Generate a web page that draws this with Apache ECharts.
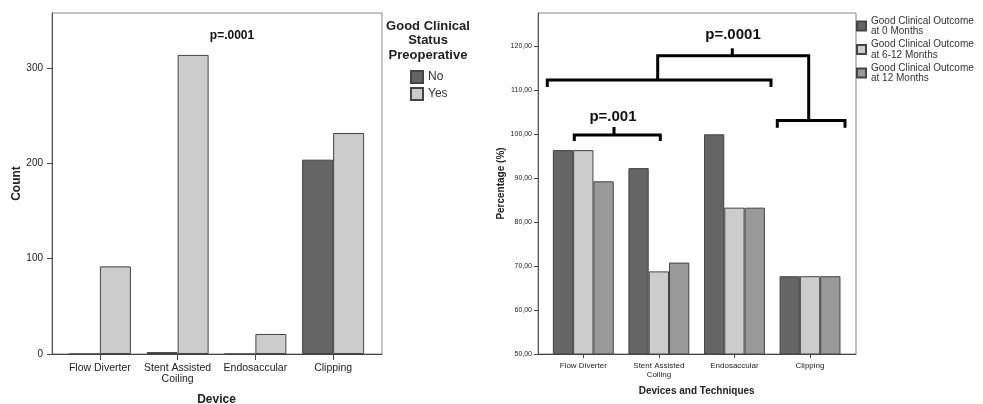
<!DOCTYPE html>
<html>
<head>
<meta charset="utf-8">
<script src="https://cdn.jsdelivr.net/npm/echarts@6/dist/echarts.min.js"></script>
<style>
  html, body { margin: 0; padding: 0; background: #fff; }
  #main { width: 983px; height: 404px; }
</style>
</head>
<body>
<div id="main"></div>
<script>
// categories and values
var devices = ['Flow Diverter', 'Stent Assisted\nCoiling', 'Endosaccular', 'Clipping'];
var preopNo = [0, 2, 0, 204];
var preopYes = [92, 314, 21, 232];
var countTicks = [0, 100, 200, 300];

var outcome0 = [96.4, 92.3, 100, 67.7];
var outcome612 = [96.4, 68.8, 83.3, 67.7];
var outcome12 = [89.3, 70.8, 83.3, 67.7];
var pctTicks = [50, 60, 70, 80, 90, 100, 110, 120];

var FONT = 'Liberation Sans, Arial, sans-serif';
var DARK = '#656565', LIGHT = '#cccccc', MID = '#999999';

var chart = echarts.init(document.getElementById('main'));

function bracket(points) {
    return {
        type: 'polyline',
        shape: { points: points },
        style: { stroke: '#000', lineWidth: 3, fill: null, lineJoin: 'miter' },
        silent: true
    };
}

var option = {
    animation: false,
    textStyle: { fontFamily: FONT },
    grid: [
        // left chart: frame + bar area
        { left: 52, top: 13, width: 330, height: 341, show: true, borderColor: '#888', borderWidth: 1, outerBoundsMode: 'none' },
        { left: 61, top: 13, width: 311, height: 341, outerBoundsMode: 'none' },
        // right chart: frame + bar area
        { left: 538, top: 13, width: 318, height: 341, show: true, borderColor: '#888', borderWidth: 1, outerBoundsMode: 'none' },
        { left: 545.5, top: 13, width: 302.3, height: 341, outerBoundsMode: 'none' }
    ],
    xAxis: [
        { gridIndex: 0, type: 'category', data: devices,
          axisLine: { lineStyle: { color: '#444' } }, axisTick: { show: false }, axisLabel: { show: false } },
        { gridIndex: 1, type: 'category', data: devices,
          axisLine: { show: true, lineStyle: { color: '#444' } },
          axisTick: { show: true, interval: 0, alignWithLabel: true, length: 6, lineStyle: { color: '#444' } },
          axisLabel: { interval: 0, fontSize: 10.5, lineHeight: 11, color: '#222', margin: 9 },
          name: 'Device', nameLocation: 'middle', nameGap: 40,
          nameTextStyle: { fontSize: 12, fontWeight: 'bold', color: '#222' } },
        { gridIndex: 2, type: 'category', data: devices,
          axisLine: { lineStyle: { color: '#444' } }, axisTick: { show: false }, axisLabel: { show: false } },
        { gridIndex: 3, type: 'category', data: devices,
          axisLine: { show: true, lineStyle: { color: '#444' } },
          axisTick: { show: true, interval: 0, alignWithLabel: true, length: 4, lineStyle: { color: '#444' } },
          axisLabel: { interval: 0, fontSize: 8, lineHeight: 9, color: '#222', margin: 7 },
          name: 'Devices and Techniques', nameLocation: 'middle', nameGap: 32,
          nameTextStyle: { fontSize: 10, fontWeight: 'bold', color: '#222' } }
    ],
    yAxis: [
        { gridIndex: 0, type: 'value', min: 0, max: 358,
          axisLine: { show: true, lineStyle: { color: '#555' } },
          axisTick: { show: true, length: 5, customValues: countTicks, lineStyle: { color: '#444' } },
          axisLabel: { customValues: countTicks, fontSize: 10, color: '#222', margin: 9 },
          splitLine: { show: false },
          name: 'Count', nameLocation: 'middle', nameRotate: 90, nameGap: 24,
          nameTextStyle: { fontSize: 12, fontWeight: 'bold', color: '#222' } },
        { gridIndex: 1, type: 'value', min: 0, max: 358, show: false, splitLine: { show: false } },
        { gridIndex: 2, type: 'value', min: 50, max: 127.6,
          axisLine: { show: true, lineStyle: { color: '#555' } },
          axisTick: { show: true, length: 4, customValues: pctTicks, lineStyle: { color: '#444' } },
          axisLabel: { customValues: pctTicks, fontSize: 7, color: '#222', margin: 6,
                       formatter: function (v) { return v.toFixed(2).replace('.', ','); } },
          splitLine: { show: false },
          name: 'Percentage (%)', nameLocation: 'middle', nameRotate: 90, nameGap: 32,
          nameTextStyle: { fontSize: 10, fontWeight: 'bold', color: '#222' } },
        { gridIndex: 3, type: 'value', min: 50, max: 127.6, show: false, splitLine: { show: false } }
    ],
    legend: [
        { data: ['No', 'Yes'], orient: 'vertical', left: 410, top: 70, padding: 0,
          itemWidth: 12, itemHeight: 12, itemGap: 3, icon: 'rect',
          textStyle: { fontSize: 12, lineHeight: 12, color: '#333', fontFamily: FONT } },
        { data: ['Good Clinical Outcome\nat 0 Months', 'Good Clinical Outcome\nat 6-12 Months', 'Good Clinical Outcome\nat 12 Months'],
          orient: 'vertical', left: 856, top: 15.5, padding: 0,
          itemWidth: 9, itemHeight: 9, itemGap: 2.5, icon: 'rect',
          textStyle: { fontSize: 10, lineHeight: 10.5, color: '#333', fontFamily: FONT } }
    ],
    series: [
        { name: 'No', type: 'bar', xAxisIndex: 1, yAxisIndex: 1, data: preopNo,
          barWidth: 31, barGap: '0%',
          itemStyle: { color: DARK, borderColor: '#444', borderWidth: 1 } },
        { name: 'Yes', type: 'bar', xAxisIndex: 1, yAxisIndex: 1, data: preopYes,
          barWidth: 31, barGap: '0%',
          itemStyle: { color: LIGHT, borderColor: '#444', borderWidth: 1 } },
        { name: 'Good Clinical Outcome\nat 0 Months', type: 'bar', xAxisIndex: 3, yAxisIndex: 3, data: outcome0,
          barWidth: 20.3, barGap: '0%',
          itemStyle: { color: DARK, borderColor: '#444', borderWidth: 1 } },
        { name: 'Good Clinical Outcome\nat 6-12 Months', type: 'bar', xAxisIndex: 3, yAxisIndex: 3, data: outcome612,
          barWidth: 20.3, barGap: '0%',
          itemStyle: { color: LIGHT, borderColor: '#444', borderWidth: 1 } },
        { name: 'Good Clinical Outcome\nat 12 Months', type: 'bar', xAxisIndex: 3, yAxisIndex: 3, data: outcome12,
          barWidth: 20.3, barGap: '0%',
          itemStyle: { color: MID, borderColor: '#444', borderWidth: 1 } }
    ],
    graphic: [
        { type: 'text', x: 428, y: 19.6, silent: true,
          style: { text: 'Good Clinical\nStatus\nPreoperative', align: 'center', verticalAlign: 'top',
                   font: 'bold 13px ' + FONT, lineHeight: 14.2, fill: '#222' } },
        { type: 'text', x: 232, y: 36, silent: true,
          style: { text: 'p=.0001', align: 'center', verticalAlign: 'middle', font: 'bold 12px ' + FONT, fill: '#111' } },
        { type: 'text', x: 733, y: 35, silent: true,
          style: { text: 'p=.0001', align: 'center', verticalAlign: 'middle', font: 'bold 15px ' + FONT, fill: '#111' } },
        { type: 'text', x: 613, y: 116.7, silent: true,
          style: { text: 'p=.001', align: 'center', verticalAlign: 'middle', font: 'bold 15px ' + FONT, fill: '#111' } },
        // significance brackets
        bracket([[574.3, 141], [574.3, 135], [660.3, 135], [660.3, 141]]),
        bracket([[614, 135], [614, 127]]),
        bracket([[547.3, 87], [547.3, 80], [771, 80], [771, 87]]),
        bracket([[657.7, 80], [657.7, 55.7], [808.7, 55.7], [808.7, 120.5]]),
        bracket([[732.3, 55.7], [732.3, 48.3]]),
        bracket([[777.3, 127.7], [777.3, 120.5], [845, 120.5], [845, 127.7]])
    ]
};

chart.setOption(option);
</script>
</body>
</html>
